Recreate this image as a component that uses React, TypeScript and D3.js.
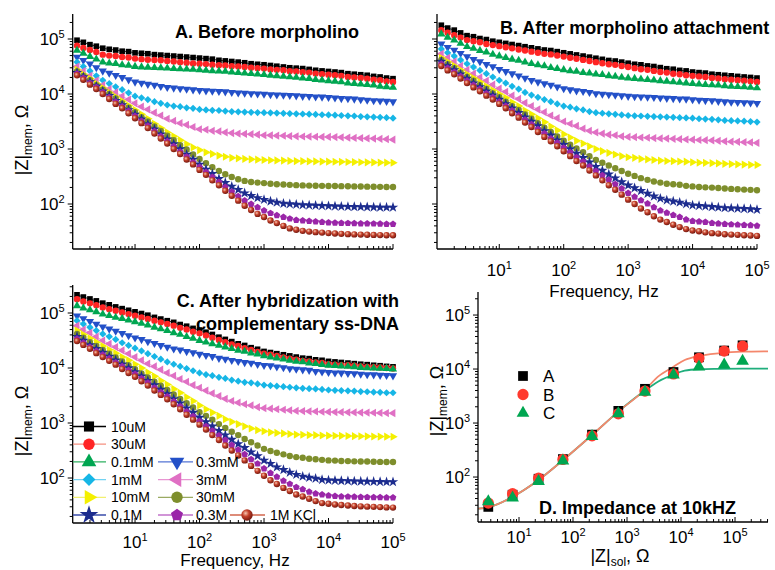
import React, { useEffect, useRef } from 'react';
import * as d3 from 'd3';

// frequency sweep (Hz), 10 points per decade
const freqHz = [1.26, 1.58, 2, 2.51, 3.16, 3.98, 5.01, 6.31, 7.94, 10,
  12.6, 15.8, 20, 25.1, 31.6, 39.8, 50.1, 63.1, 79.4, 100,
  126, 158, 200, 251, 316, 398, 501, 631, 794, 1000,
  1260, 1580, 2000, 2510, 3160, 3980, 5010, 6310, 7940, 10000,
  12600, 15800, 20000, 25100, 31600, 39800, 50100, 63100, 79400, 100000];

const seriesNames = ['10uM', '30uM', '0.1mM', '0.3mM', '1mM', '3mM', '10mM', '30mM', '0.1M', '0.3M', '1M KCl'];

// A. before morpholino, |Z|mem in ohm, one row per concentration
const zBefore = [
  [95000, 87000, 79000, 74000, 68000, 65000, 63000, 60000, 59000, 56000, 55000, 54000, 52000, 51000, 50000, 49000, 48000, 47000, 46000, 45000, 44000, 43000, 41000, 40000, 39000, 38000, 37000, 35500, 34700, 34000, 33000, 32000, 31000, 30000, 29500, 29000, 28000, 27000, 26300, 25700, 25100, 24500, 23400, 22900, 22400, 21900, 20900, 20400, 19500, 19000],
  [76000, 69000, 63000, 58000, 52000, 50000, 49000, 47000, 46000, 44000, 43000, 42000, 41500, 41000, 40000, 39000, 38000, 37000, 36000, 35500, 35000, 34000, 33500, 33000, 32000, 31600, 31000, 30000, 29500, 29000, 28000, 27500, 27000, 26000, 25700, 25000, 24500, 23500, 23000, 22400, 22000, 21400, 20400, 20000, 19500, 19000, 18200, 17800, 17000, 16600],
  [62000, 55000, 48000, 43000, 38000, 36300, 35500, 33900, 33100, 31600, 30900, 30600, 30200, 29900, 29500, 28800, 28500, 28200, 27900, 27500, 26900, 26300, 26000, 25700, 25100, 24500, 24000, 23400, 22900, 22400, 21900, 21400, 20900, 20400, 20000, 19500, 19100, 18200, 17800, 17400, 17000, 16600, 15800, 15500, 15100, 14800, 14500, 13800, 13500, 13200],
  [47000, 41000, 35500, 30200, 26300, 24000, 21900, 20000, 18200, 16600, 15800, 15100, 14500, 13800, 13200, 12900, 12600, 12300, 12000, 11700, 11500, 11300, 11200, 11000, 10700, 10500, 10400, 10200, 10100, 10000, 9800, 9700, 9550, 9450, 9330, 9120, 9050, 8910, 8850, 8710, 8510, 8320, 8250, 8130, 7940, 7760, 7590, 7520, 7410, 7240],
  [38000, 31600, 26300, 21400, 17800, 15500, 13500, 12000, 10500, 9120, 8510, 7940, 7240, 6760, 6310, 6030, 5890, 5620, 5500, 5250, 5130, 5050, 5010, 4900, 4790, 4750, 4700, 4650, 4600, 4570, 4540, 4500, 4450, 4400, 4370, 4330, 4290, 4250, 4200, 4170, 4120, 4070, 4020, 3980, 3890, 3840, 3800, 3760, 3720, 3630],
  [31600, 26000, 21400, 17600, 14500, 12300, 10700, 9120, 7940, 6760, 5890, 5250, 4570, 4070, 3550, 3240, 2950, 2750, 2510, 2290, 2240, 2140, 2090, 2000, 1950, 1910, 1880, 1860, 1820, 1780, 1770, 1750, 1740, 1720, 1700, 1690, 1680, 1670, 1660, 1660, 1650, 1630, 1610, 1590, 1580, 1560, 1550, 1530, 1510, 1480],
  [27500, 22900, 19100, 15500, 12900, 10700, 8910, 7410, 6170, 5130, 4270, 3550, 2880, 2400, 2000, 1700, 1450, 1230, 1070, 955, 871, 813, 759, 724, 692, 676, 661, 650, 640, 631, 625, 620, 615, 608, 603, 600, 597, 594, 591, 589, 587, 584, 581, 578, 575, 573, 570, 567, 565, 562],
  [25700, 21400, 17800, 14500, 12000, 10000, 8320, 6760, 5620, 4680, 3800, 3160, 2570, 2140, 1740, 1450, 1170, 977, 794, 661, 550, 468, 398, 347, 309, 282, 263, 251, 245, 240, 234, 229, 226, 223, 220, 218, 216, 215, 214, 213, 212, 211, 210, 209, 208, 207, 206, 205, 204, 204],
  [24500, 20400, 16600, 13800, 11200, 9330, 7590, 6310, 5130, 4270, 3470, 2820, 2290, 1860, 1510, 1230, 1000, 794, 646, 525, 427, 355, 288, 245, 209, 182, 158, 141, 129, 120, 112, 107, 102, 100, 98, 96, 95, 94, 93, 92, 91, 90, 89.5, 89, 88.5, 88, 87.5, 87, 87, 87],
  [23400, 19500, 15800, 13200, 10700, 8710, 7240, 5890, 4900, 3980, 3240, 2630, 2090, 1700, 1380, 1120, 891, 724, 575, 468, 380, 309, 251, 204, 166, 138, 115, 100, 87, 76, 68, 62, 58, 54, 51, 50, 49, 48, 47, 46, 45.5, 45, 44.8, 44.5, 44.2, 44, 43.8, 43.5, 43.2, 43],
  [21900, 18200, 14800, 12300, 10000, 8130, 6610, 5500, 4470, 3630, 2950, 2400, 1910, 1550, 1260, 1000, 813, 646, 525, 417, 339, 269, 219, 174, 141, 115, 93, 78, 66, 58, 50, 45, 40, 36, 34, 32.5, 31.5, 30.8, 30.2, 29.6, 29.1, 28.7, 28.3, 28, 27.8, 27.6, 27.4, 27.2, 27.1, 27],
];

// B. after morpholino attachment
const zAttached = [
  [178000, 158000, 145000, 129000, 115000, 110000, 102000, 97700, 91200, 87100, 83200, 79400, 75900, 72400, 69200, 66100, 63100, 61700, 58900, 56200, 53700, 51300, 49000, 46800, 44700, 42700, 40700, 39800, 38000, 36300, 34700, 33900, 32400, 31600, 30200, 28800, 28200, 26900, 26300, 25100, 24500, 24000, 22900, 22400, 21900, 21400, 20900, 20400, 20000, 19500],
  [145000, 130000, 117000, 106000, 95500, 91200, 87100, 81300, 77600, 74100, 70800, 67600, 64600, 61700, 58900, 56200, 53700, 52500, 50100, 47900, 45700, 43700, 41700, 39800, 38000, 36300, 34700, 33900, 32400, 30900, 29500, 28200, 27500, 26300, 25100, 24500, 23400, 22900, 21900, 21400, 20900, 20400, 19500, 19100, 18600, 18200, 17800, 17400, 17000, 16600],
  [123000, 107000, 95500, 83200, 72400, 67600, 61700, 57500, 52500, 49000, 45700, 42700, 40700, 38000, 35500, 33900, 32400, 30200, 28800, 27500, 26300, 25700, 24500, 24000, 22900, 22400, 21400, 20900, 20000, 19500, 19100, 18600, 18200, 17800, 17400, 17000, 16600, 16200, 15800, 15500, 15100, 14800, 14600, 14500, 14100, 13800, 13600, 13500, 13200, 12900],
  [81300, 70800, 63100, 55000, 47900, 42700, 38900, 34700, 31600, 28200, 25700, 23400, 21400, 19500, 17800, 16600, 15500, 14500, 13500, 12600, 12000, 11500, 11200, 10700, 10200, 10000, 9770, 9550, 9330, 9120, 8990, 8910, 8800, 8710, 8510, 8400, 8320, 8200, 8130, 7940, 7760, 7650, 7590, 7410, 7240, 7150, 7080, 6990, 6920, 6760],
  [66100, 56200, 49000, 41700, 35500, 30900, 26900, 23400, 20400, 17800, 15800, 13800, 12300, 10700, 9550, 8710, 7940, 7240, 6610, 6030, 5750, 5370, 5130, 4790, 4570, 4470, 4370, 4270, 4170, 4070, 4020, 3980, 3930, 3890, 3840, 3800, 3760, 3720, 3680, 3630, 3550, 3500, 3470, 3390, 3310, 3270, 3240, 3200, 3160, 3090],
  [53700, 45700, 38900, 32400, 27500, 23400, 20000, 17400, 14800, 12600, 11000, 9330, 8130, 6920, 6030, 5250, 4680, 4070, 3630, 3160, 2880, 2630, 2340, 2140, 2000, 1910, 1820, 1780, 1700, 1660, 1640, 1620, 1600, 1580, 1560, 1550, 1530, 1510, 1490, 1480, 1460, 1450, 1430, 1410, 1380, 1360, 1350, 1330, 1320, 1290],
  [45700, 38500, 32400, 27200, 22900, 19500, 16600, 13800, 11700, 10000, 8510, 7080, 6030, 5010, 4270, 3630, 3090, 2570, 2190, 1860, 1620, 1410, 1260, 1120, 1000, 912, 851, 794, 741, 708, 692, 661, 646, 631, 617, 605, 600, 592, 588, 575, 565, 560, 552, 548, 537, 532, 527, 522, 516, 513],
  [41700, 34700, 29500, 24500, 20400, 17400, 14500, 12300, 10200, 8710, 7240, 6030, 5130, 4270, 3550, 2950, 2450, 2040, 1700, 1410, 1200, 1020, 871, 741, 631, 562, 501, 447, 398, 355, 324, 295, 275, 257, 245, 234, 229, 224, 214, 209, 204, 201, 199, 195, 191, 188, 186, 183, 181, 178],
  [38900, 32400, 27500, 22900, 19100, 15800, 13500, 11200, 9550, 7940, 6610, 5500, 4570, 3800, 3160, 2630, 2140, 1780, 1450, 1200, 1000, 832, 692, 575, 479, 407, 347, 295, 251, 219, 195, 174, 155, 138, 126, 117, 112, 107, 100, 95, 93, 91, 89, 87, 85, 84, 83, 82, 81, 79],
  [35500, 29500, 25100, 20900, 17400, 14500, 12300, 10200, 8710, 7240, 6030, 5010, 4070, 3390, 2820, 2290, 1910, 1550, 1290, 1050, 871, 708, 589, 479, 398, 331, 275, 229, 191, 158, 135, 117, 102, 87, 76, 69, 63, 58, 52, 49, 48, 47, 45, 44, 43, 42.5, 42, 41.5, 41, 40],
  [32400, 26900, 22900, 19100, 15800, 13200, 11200, 9330, 7940, 6610, 5500, 4470, 3720, 3020, 2510, 2040, 1660, 1380, 1120, 912, 741, 603, 501, 407, 331, 269, 219, 182, 148, 120, 100, 83, 71, 60, 52, 47, 42, 38, 35, 33, 32, 30.5, 29.5, 29, 28.2, 27.8, 27.5, 27, 26.7, 26.3],
];

// C. after hybridization with complementary ss-DNA
const zHybridized = [
  [214000, 195000, 180000, 166000, 151000, 141000, 129000, 120000, 112000, 105000, 97700, 91200, 83200, 77600, 72400, 67600, 61700, 57500, 52500, 49000, 44700, 40700, 36300, 33100, 30200, 27500, 25700, 23400, 21900, 20000, 19100, 18200, 17400, 16600, 15800, 15100, 14800, 14100, 13800, 13200, 12900, 12600, 12300, 12000, 11700, 11500, 11200, 11000, 10700, 10500],
  [178000, 162000, 150000, 138000, 126000, 117000, 110000, 102000, 95500, 89100, 83200, 77600, 72400, 67600, 63100, 58900, 53700, 50100, 45700, 42700, 38900, 35500, 32400, 29500, 26900, 25100, 22900, 21400, 19500, 18200, 17400, 16600, 15500, 14800, 14100, 13500, 13200, 12600, 12300, 11700, 11500, 11300, 11200, 11000, 10700, 10500, 10300, 10200, 10000, 9770],
  [135000, 123000, 114000, 105000, 95500, 89100, 83200, 79400, 74100, 69200, 64600, 60300, 55000, 51300, 47900, 43700, 40700, 37200, 34700, 31600, 29500, 27500, 25700, 24000, 22400, 20900, 20000, 18600, 17800, 16600, 15800, 15100, 14500, 13800, 13200, 12900, 12300, 12000, 11500, 11200, 11000, 10800, 10700, 10500, 10200, 10000, 9950, 9800, 9770, 9550],
  [89100, 79400, 70800, 63100, 56200, 51300, 46800, 42700, 38900, 35500, 33100, 30200, 28200, 25700, 24000, 22400, 21400, 20000, 19100, 17800, 17000, 16200, 15100, 14500, 13800, 13200, 12600, 12300, 11700, 11200, 11000, 10500, 10200, 9770, 9550, 9330, 9120, 8710, 8510, 8320, 8200, 8130, 8000, 7940, 7760, 7590, 7550, 7410, 7350, 7240],
  [72400, 63100, 55000, 47900, 41700, 37200, 33100, 28800, 25700, 22900, 20400, 18200, 16200, 14500, 12900, 11700, 10700, 9770, 8910, 8130, 7590, 7240, 6760, 6460, 6030, 5750, 5500, 5370, 5130, 4900, 4790, 4680, 4570, 4470, 4370, 4270, 4200, 4170, 4070, 3980, 3920, 3890, 3840, 3800, 3720, 3700, 3630, 3610, 3550, 3550],
  [58900, 50100, 43700, 37200, 31600, 27500, 24000, 20900, 18200, 15800, 13800, 12000, 10700, 9330, 8130, 7240, 6310, 5620, 4900, 4370, 3890, 3470, 3090, 2750, 2510, 2340, 2190, 2090, 1950, 1860, 1820, 1780, 1740, 1700, 1660, 1650, 1630, 1620, 1600, 1590, 1580, 1575, 1565, 1555, 1550, 1545, 1535, 1525, 1515, 1510],
  [47900, 40700, 34700, 29500, 25100, 21400, 18600, 15800, 13800, 11700, 10000, 8320, 7080, 5890, 5010, 4170, 3550, 2950, 2510, 2090, 1780, 1550, 1350, 1170, 1050, 955, 871, 794, 741, 708, 676, 661, 646, 631, 617, 612, 603, 600, 592, 589, 587, 584, 580, 577, 575, 572, 569, 566, 564, 562],
  [41700, 35500, 29500, 25100, 21400, 18200, 15500, 13200, 11200, 9550, 7940, 6760, 5620, 4790, 3980, 3310, 2750, 2290, 1910, 1580, 1350, 1150, 955, 813, 692, 603, 513, 447, 389, 339, 309, 288, 269, 251, 240, 234, 224, 219, 214, 209, 207, 204, 203, 201, 200, 199, 198, 196, 195, 195],
  [37200, 31600, 26300, 22400, 19100, 16200, 13800, 11700, 10000, 8510, 7080, 5890, 4900, 4070, 3390, 2750, 2290, 1860, 1550, 1260, 1050, 871, 724, 603, 501, 417, 355, 295, 251, 209, 182, 158, 141, 126, 115, 107, 102, 98, 93, 91, 90, 89, 88.5, 87.5, 87, 86.5, 86, 85.5, 85, 85],
  [33900, 28800, 24000, 20400, 17400, 14800, 12600, 10700, 9120, 7760, 6460, 5370, 4370, 3630, 3020, 2450, 2000, 1620, 1320, 1070, 871, 724, 589, 490, 398, 324, 269, 219, 182, 148, 123, 105, 89, 78, 68, 62, 56, 52, 50, 48, 47, 46, 45.7, 45.3, 45, 44.8, 44.6, 44.4, 44.2, 44],
  [30900, 26300, 22400, 18600, 15800, 13500, 11500, 9550, 8130, 6920, 5750, 4790, 3890, 3240, 2690, 2190, 1780, 1410, 1150, 933, 759, 603, 490, 389, 316, 257, 209, 166, 135, 110, 91, 78, 66, 58, 50, 46, 42, 38, 35, 34, 33, 32.3, 31.6, 31, 30.5, 30.1, 29.8, 29.5, 29.2, 29],
];

// D. impedance at 10 kHz vs solution impedance
const zSol = [2.7, 7.6, 23, 65, 225, 690, 2150, 7250, 21500, 63000, 138000];
const zMemA = [28, 47, 93, 215, 610, 1680, 4300, 8800, 16500, 22000, 27500];
const zMemB = [33, 49, 95, 212, 580, 1480, 3900, 8100, 15800, 21500, 26500];
const zMemC = [35, 41, 83, 200, 570, 1500, 3750, 7800, 11000, 12000, 14000];
const groupNames = ['A', 'B', 'C'];
// fitted curves as drawn
const fitZSol = [1.76, 2.7, 7.6, 23, 65, 225, 690, 2150, 3800, 7250, 11700, 21500, 49000, 138000, 408000];
const fitOrange = [26, 27.5, 43, 88, 205, 600, 1630, 4100, 7300, 11000, 14700, 17400, 19500, 21000, 21300];
const fitGreen = [26, 27.5, 43, 88, 205, 600, 1630, 4000, 5900, 7900, 9300, 9900, 10100, 10200, 10200];

const FONT = '"Liberation Sans", Arial, Helvetica, sans-serif';
const OHM = '\u03A9';

const pentagon = {
  draw(ctx: any, size: number) {
    const r = Math.sqrt(size / 2.378);
    for (let i = 0; i < 5; i++) {
      const a = -Math.PI / 2 + (i * 2 * Math.PI) / 5;
      const px = r * Math.cos(a), py = r * Math.sin(a);
      if (i === 0) ctx.moveTo(px, py); else ctx.lineTo(px, py);
    }
    ctx.closePath();
  },
};

const markers = [
  { fill: '#000000', line: '#000000', type: d3.symbolSquare, rot: 0, size: 32 },
  { fill: '#ff2424', line: '#f59080', type: d3.symbolCircle, rot: 0, size: 32 },
  { fill: '#00a651', line: '#2fb060', type: d3.symbolTriangle, rot: 0, size: 29 },
  { fill: '#2350c8', line: '#5474d4', type: d3.symbolTriangle, rot: 180, size: 29 },
  { fill: '#16b6e6', line: '#72d2f2', type: d3.symbolSquare, rot: 45, size: 26 },
  { fill: '#e070c4', line: '#e896d2', type: d3.symbolTriangle, rot: -90, size: 29 },
  { fill: '#f4f000', line: '#f2f070', type: d3.symbolTriangle, rot: 90, size: 29 },
  { fill: '#7e8e2c', line: '#9aaa62', type: d3.symbolCircle, rot: 0, size: 32 },
  { fill: '#1c2c8e', line: '#3a4caa', type: d3.symbolStar, rot: 0, size: 34 },
  { fill: '#9a26a8', line: '#c272ca', type: pentagon, rot: 0, size: 30 },
  { fill: 'url(#kclBall)', line: '#d2664c', type: d3.symbolCircle, rot: 0, size: 32 },
];

const isMajor = (t: number) => Math.abs(Math.log10(t) - Math.round(Math.log10(t))) < 1e-6;

function powLabel(g: any, x: number, y: number, exp: number, anchor: string) {
  const t = g.append('text').attr('x', x).attr('y', y).attr('text-anchor', anchor).attr('font-size', 17);
  t.append('tspan').text('10');
  t.append('tspan').attr('dy', -7).attr('font-size', 11).text(String(exp));
}

function zTitle(g: any, cx: number, cy: number, sub: string, rotate: boolean) {
  const t = g.append('text')
    .attr('transform', `translate(${cx},${cy})${rotate ? ' rotate(-90)' : ''}`)
    .attr('text-anchor', 'middle').attr('font-size', 18);
  t.append('tspan').text('|Z|');
  t.append('tspan').attr('font-size', 12).attr('dy', 4).text(sub);
  t.append('tspan').attr('dy', -4).text(', ' + OHM);
}

function drawAxes(g: any, x: any, y: any, opt: any) {
  const [xa, xb] = x.range();
  const [yb, ya] = y.range();
  const ax = g.append('g').attr('stroke', '#000').attr('fill', 'none');
  ax.append('line').attr('x1', xa).attr('x2', xb).attr('y1', yb).attr('y2', yb).attr('stroke-width', 1.3);
  ax.append('line').attr('x1', xa).attr('x2', xa).attr('y1', yb).attr('y2', ya).attr('stroke-width', 1.3);
  const [dx0, dx1] = x.domain();
  const xt = x.ticks().filter((t: number) => t >= dx0 * 0.999 && t <= dx1 * 1.001);
  xt.forEach((t: number) => {
    ax.append('line').attr('x1', x(t)).attr('x2', x(t)).attr('y1', yb).attr('y2', yb - (isMajor(t) ? 5 : 3)).attr('stroke-width', 1);
  });
  const [dy0, dy1] = y.domain();
  const yt = y.ticks().filter((t: number) => t >= dy0 && t <= dy1);
  yt.forEach((t: number) => {
    ax.append('line').attr('x1', xa - (isMajor(t) ? 5 : 3)).attr('x2', xa).attr('y1', y(t)).attr('y2', y(t)).attr('stroke-width', 1);
  });
  if (opt.xLabelY) {
    xt.filter(isMajor).forEach((t: number) => powLabel(g, x(t), opt.xLabelY, Math.round(Math.log10(t)), 'middle'));
  }
  if (opt.yLabels) {
    yt.filter(isMajor).forEach((t: number) => powLabel(g, xa - 8, y(t) + 6, Math.round(Math.log10(t)), 'end'));
  }
}

function drawSeries(g: any, x: any, y: any, rows: number[][]) {
  rows.forEach((vals, i) => {
    const m = markers[i];
    const n = Math.min(vals.length, freqHz.length);
    const pts: [number, number][] = [];
    for (let k = 0; k < n; k++) pts.push([x(freqHz[k]), y(vals[k])]);
    g.append('path').attr('d', d3.line()(pts)).attr('fill', 'none').attr('stroke', m.line).attr('stroke-width', 0.8);
    const sym = d3.symbol().type(m.type as any).size(m.size)();
    g.append('g').selectAll('path').data(pts).enter().append('path')
      .attr('transform', (p: number[]) => `translate(${p[0]},${p[1]}) rotate(${m.rot})`)
      .attr('d', sym)
      .attr('fill', m.fill);
  });
}

export default function App() {
  const svgRef = useRef<SVGSVGElement>(null);

  useEffect(() => {
    const svg = d3.select(svgRef.current);
    svg.selectAll('*').remove();
    svg.attr('font-family', FONT);

    const defs = svg.append('defs');
    const grad = defs.append('radialGradient').attr('id', 'kclBall').attr('cx', '38%').attr('cy', '35%').attr('r', '65%');
    grad.append('stop').attr('offset', '0%').attr('stop-color', '#f6c6b0');
    grad.append('stop').attr('offset', '45%').attr('stop-color', '#c4402a');
    grad.append('stop').attr('offset', '100%').attr('stop-color', '#761a10');

    // frequency panels share the x scale layout
    const freqDomain = [1.08, 1e5];
    const panels = [
      { rows: zBefore, xr: [72.7, 393], yr: [249, 14], yd: [15.2, 2.85e5], yLabels: true, xLabelY: 0 },
      { rows: zAttached, xr: [437, 757], yr: [249, 14], yd: [15.2, 2.85e5], yLabels: false, xLabelY: 276 },
      { rows: zHybridized, xr: [72.7, 393], yr: [523, 285], yd: [15.2, 3.23e5], yLabels: true, xLabelY: 548 },
    ];

    panels.forEach((p) => {
      const x = d3.scaleLog().domain(freqDomain).range(p.xr);
      const y = d3.scaleLog().domain(p.yd).range(p.yr);
      const g = svg.append('g');
      drawSeries(g, x, y, p.rows);
      drawAxes(g, x, y, { yLabels: p.yLabels, xLabelY: p.xLabelY });
    });

    // titles and axis names
    svg.append('text').attr('x', 175).attr('y', 38).attr('font-size', 18).attr('font-weight', 'bold').text('A. Before morpholino');
    svg.append('text').attr('x', 500).attr('y', 34).attr('font-size', 18).attr('font-weight', 'bold').text('B. After morpholino attachment');
    svg.append('text').attr('x', 399).attr('y', 307).attr('font-size', 18).attr('font-weight', 'bold').attr('text-anchor', 'end').text('C. After hybridization with');
    svg.append('text').attr('x', 399).attr('y', 330).attr('font-size', 18).attr('font-weight', 'bold').attr('text-anchor', 'end').text('complementary ss-DNA');
    svg.append('text').attr('x', 539).attr('y', 514).attr('font-size', 18).attr('font-weight', 'bold').text('D. Impedance at 10kHZ');

    svg.append('text').attr('x', 604).attr('y', 297).attr('font-size', 17).attr('text-anchor', 'middle').text('Frequency, Hz');
    svg.append('text').attr('x', 235).attr('y', 566).attr('font-size', 17).attr('text-anchor', 'middle').text('Frequency, Hz');
    zTitle(svg, 28, 140, 'mem', true);
    zTitle(svg, 28, 421, 'mem', true);
    zTitle(svg, 443, 401, 'mem', true);
    zTitle(svg, 620, 562, 'sol', false);

    // legend of panel C
    const slots = [[0, 0], [0, 1], [0, 2], [1, 2], [0, 3], [1, 3], [0, 4], [1, 4], [0, 5], [1, 5], [2, 5]];
    const cols = [{ l0: 73, l1: 106, m: 89, t: 111 }, { l0: 158, l1: 193, m: 177, t: 196 }, { l0: 230, l1: 265, m: 247, t: 270 }];
    const lg = svg.append('g');
    seriesNames.forEach((name, i) => {
      const [c, r] = slots[i];
      const col = cols[c];
      const yy = 426.5 + r * 17.7;
      const m = markers[i];
      lg.append('line').attr('x1', col.l0).attr('x2', col.l1).attr('y1', yy).attr('y2', yy).attr('stroke', m.line).attr('stroke-width', 1.3);
      lg.append('path').attr('transform', `translate(${col.m},${yy}) rotate(${m.rot})`)
        .attr('d', d3.symbol().type(m.type as any).size(m.size * 3.2)()).attr('fill', m.fill);
      lg.append('text').attr('x', col.t).attr('y', yy + 5).attr('font-size', 14).text(name);
    });

    // panel D
    const xD = d3.scaleLog().domain([1.74, 4.08e5]).range([478, 768]);
    const yD = d3.scaleLog().domain([14.7, 2.67e5]).range([522, 292]);
    const gD = svg.append('g');
    const fitLine = d3.line<number>().x((_, i) => xD(fitZSol[i])).y((v) => yD(v)).curve(d3.curveMonotoneX);
    gD.append('path').attr('d', fitLine(fitGreen)).attr('fill', 'none').attr('stroke', '#1fae7c').attr('stroke-width', 1.8);
    gD.append('path').attr('d', fitLine(fitOrange)).attr('fill', 'none').attr('stroke', '#f4876c').attr('stroke-width', 1.8);

    const dGroups = [
      { vals: zMemA, fill: '#000000', type: d3.symbolSquare, size: 95 },
      { vals: zMemB, fill: '#ff3a2e', type: d3.symbolCircle, size: 100 },
      { vals: zMemC, fill: '#00a651', type: d3.symbolTriangle, size: 70 },
    ];
    dGroups.forEach((grp, gi) => {
      const sym = d3.symbol().type(grp.type).size(grp.size)();
      gD.append('g').selectAll('path').data(grp.vals).enter().append('path')
        .attr('transform', (v: number, i: number) => `translate(${xD(zSol[i])},${yD(v)})`)
        .attr('d', sym).attr('fill', grp.fill);
      const ly = 376 + gi * 18.5;
      gD.append('path').attr('transform', `translate(523,${ly})`).attr('d', sym).attr('fill', grp.fill);
      gD.append('text').attr('x', 543).attr('y', ly + 6).attr('font-size', 17).text(groupNames[gi]);
    });
    drawAxes(gD, xD, yD, { yLabels: true, xLabelY: 543 });
  }, []);

  return (
    <svg ref={svgRef} width={775} height={570}
      style={{ position: 'absolute', left: 0, top: 0, background: '#ffffff', display: 'block' }} />
  );
}
